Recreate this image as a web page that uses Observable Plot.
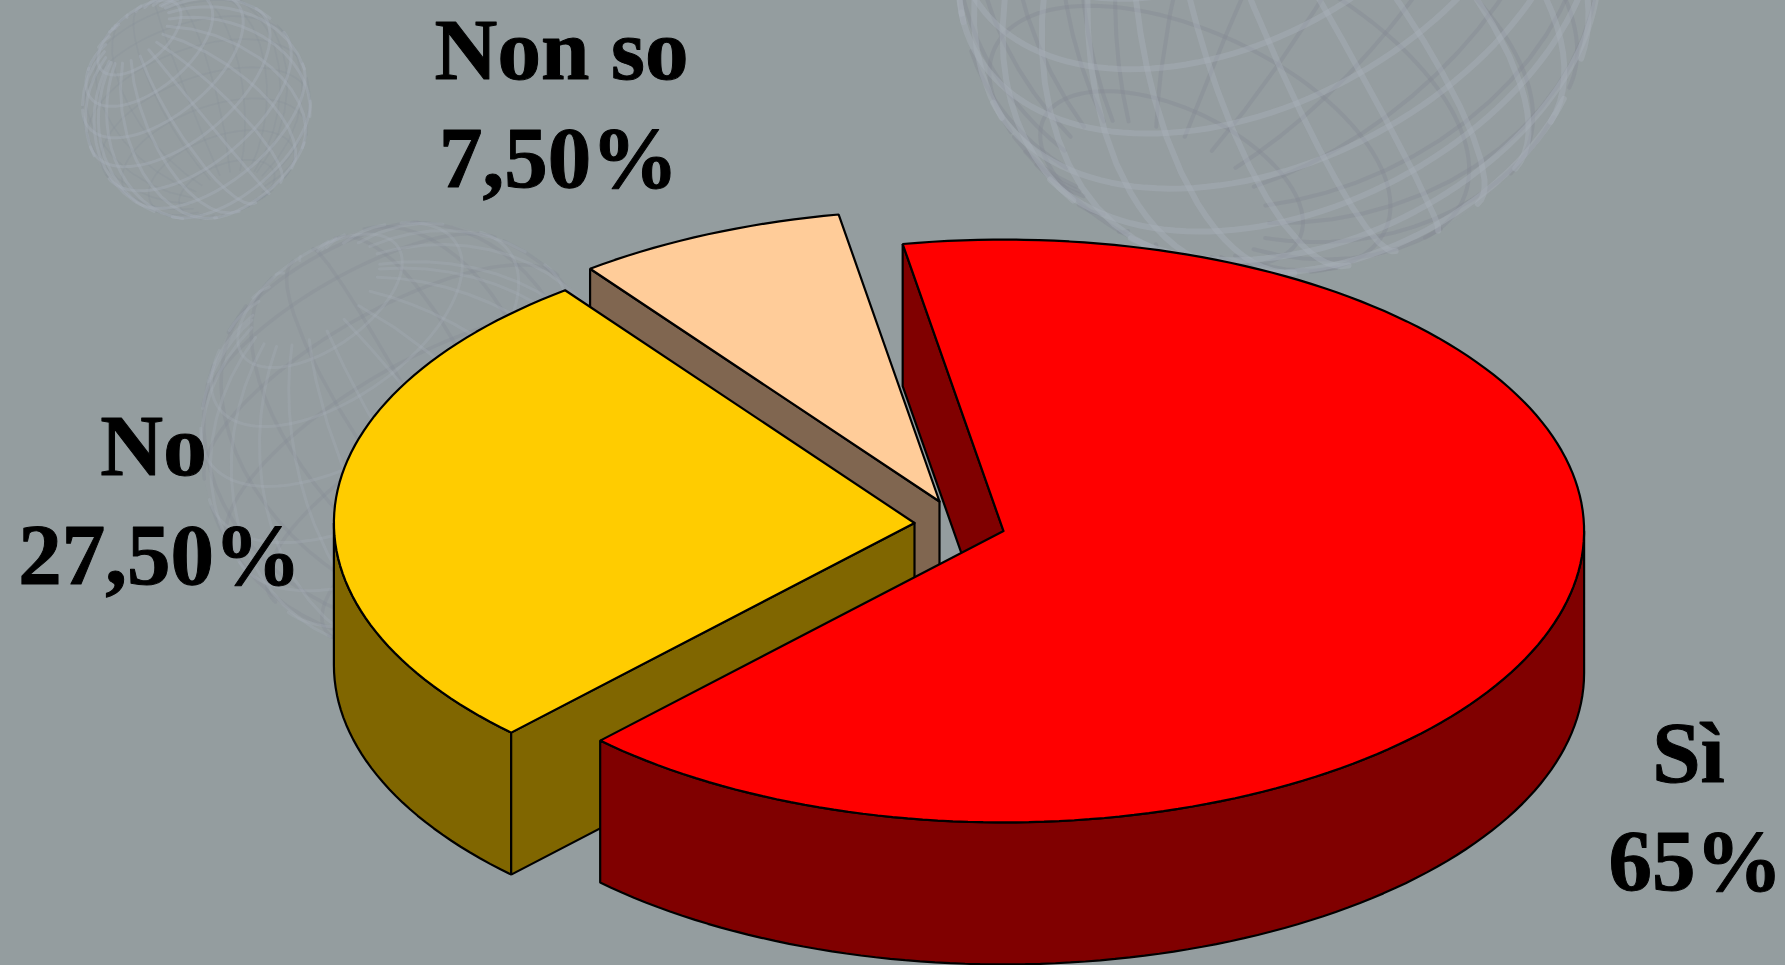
<!DOCTYPE html>
<html>
<head>
<meta charset="utf-8">
<script src="https://cdn.jsdelivr.net/npm/d3@7"></script>
<script src="https://cdn.jsdelivr.net/npm/@observablehq/plot@0.6"></script>
<style>
html,body{margin:0;padding:0;background:#949d9f;overflow:hidden}
svg{display:block;overflow:hidden}
</style>
</head>
<body>
<div id="chart"></div>
<script>
// Data
const categories = ["Sì", "No", "Non so"];
const shares = [65, 27.5, 7.5];
const shareLabels = ["65%", "27,50%", "7,50%"];
const topColors = ["#ff0000", "#ffcc00", "#ffcc99"];
const sideColors = ["#800000", "#806600", "#806650"];

// Style / layout of the 3D pie
const W = 1785, H = 965;
const startAngle = -10, rx = 580.6, ry = 291.4, depth = 142;
const centers = [[1003, 530.5], [914, 522.5], [939, 501]];
const labelPos = [
  {nameX: 1688, name: 781, valX: 1695, val: 889},
  {nameX: 153, name: 474, valX: 159, val: 583},
  {nameX: 561, name: 78, valX: 558, val: 186}
];
const rad = d => d * Math.PI / 180;

const cum = [0, ...d3.cumsum(shares)];
const slices = categories.map((c, i) => ({
  name: c, a0: startAngle + cum[i] * 3.6, a1: startAngle + cum[i + 1] * 3.6,
  c: centers[i], top: topColors[i], side: sideColors[i]
}));
const pt = (c, a, dz = 0) => ({x: c[0] + rx * Math.sin(rad(a)), y: c[1] - ry * Math.cos(rad(a)) + dz});
const arc = (c, a0, a1, dz = 0) => {
  const n = Math.max(2, Math.ceil(Math.abs(a1 - a0) / 1.5));
  return d3.range(n + 1).map(k => pt(c, a0 + (a1 - a0) * k / n, dz));
};
const close = p => [...p, p[0]];
const apex = (c, dz = 0) => ({x: c[0], y: c[1] + dz});

function poly(points, fill) {
  return Plot.line(close(points), {x: "x", y: "y", fill, stroke: "#000", strokeWidth: 2.2, strokeLinejoin: "miter", curve: "linear"});
}
const pieMarks = [];
for (const i of [2, 1, 0]) {
  const s = slices[i];
  const lo = Math.max(s.a0, 90), hi = Math.min(s.a1, 270);
  if (hi > lo) pieMarks.push(poly([...arc(s.c, lo, hi), ...arc(s.c, hi, lo, depth)], s.side));
  pieMarks.push(poly([apex(s.c), pt(s.c, s.a0), pt(s.c, s.a0, depth), apex(s.c, depth)], s.side));
  pieMarks.push(poly([apex(s.c), ...arc(s.c, s.a0, s.a1)], s.top));
}

// Decorative wire globes of the slide background
function globe(cx, cy, r, rotate, step) {
  const proj = d3.geoOrthographic().rotate(rotate).scale(r).translate([cx, cy]).precision(0.5);
  const lines = [];
  let cur;
  const stream = proj.stream({
    point(x, y) { cur && cur.push({x, y}); },
    lineStart() { cur = []; lines.push(cur); },
    lineEnd() { cur = null; },
    polygonStart() {}, polygonEnd() {}, sphere() {}
  });
  d3.geoStream(d3.geoGraticule().stepMinor(step).stepMajor([90, 360]).extentMinor([[-180, -70], [180, 70.01]]).extentMajor([[-180, -70], [180, 70.01]])(), stream);
  return lines.flatMap((l, i) => l.map(p => ({...p, z: i})));
}
const wire = (data, stroke, strokeWidth, strokeOpacity) =>
  Plot.line(data, {x: "x", y: "y", z: "z", stroke, strokeWidth, strokeOpacity, curve: "linear"});

const globes = [
  {cx: 196, cy: 105, r: 114, front: [15, -30, 40], back: [-35, 30, 20], sf: 16, sb: 16, wf: 3, wb: 1.6, of: 0.38, ob: 0.22},
  {cx: 416, cy: 438, r: 216, front: [-25, -30, 35], back: [40, 20, 30], sf: 16, sb: 18, wf: 3, wb: 3.5, of: 0.28, ob: 0.32},
  {cx: 1277, cy: -49, r: 322, front: [-10, -40, 28], back: [45, 30, -25], sf: 13, sb: 16, wf: 6, wb: 4, of: 0.42, ob: 0.42}
];
const globeMarks = [
  Plot.dot(globes, {x: "cx", y: "cy", r: "r", fill: "#9aa1ad", fillOpacity: 0.14, stroke: "none"}),
  ...globes.flatMap(g => [
    wire(globe(g.cx, g.cy, g.r, g.back, [g.sb, g.sb]), "#858b94", g.wb, g.ob),
    wire(globe(g.cx, g.cy, g.r, g.front, [g.sf, g.sf]), "#a9b0bb", g.wf, g.of)
  ])
];

const labelRows = categories.flatMap((c, i) => [
  {x: labelPos[i].nameX, y: labelPos[i].name, t: c},
  {x: labelPos[i].valX, y: labelPos[i].val, t: shareLabels[i]}
]);

const chart = Plot.plot({
  width: W, height: H, margin: 0,
  style: {background: "#949d9f"},
  x: {domain: [0, W], range: [0, W], axis: null},
  y: {domain: [0, H], range: [0, H], axis: null},
  r: {type: "identity"},
  marks: [
    ...globeMarks,
    ...pieMarks,
    Plot.text(labelRows, {x: "x", y: "y", text: "t", textAnchor: "middle", lineAnchor: "bottom",
      fontFamily: "Liberation Serif", fontWeight: "bold", fontSize: 87, fill: "#000", stroke: "#000", strokeWidth: 1})
  ]
});
document.getElementById("chart").append(chart);
</script>
</body>
</html>
